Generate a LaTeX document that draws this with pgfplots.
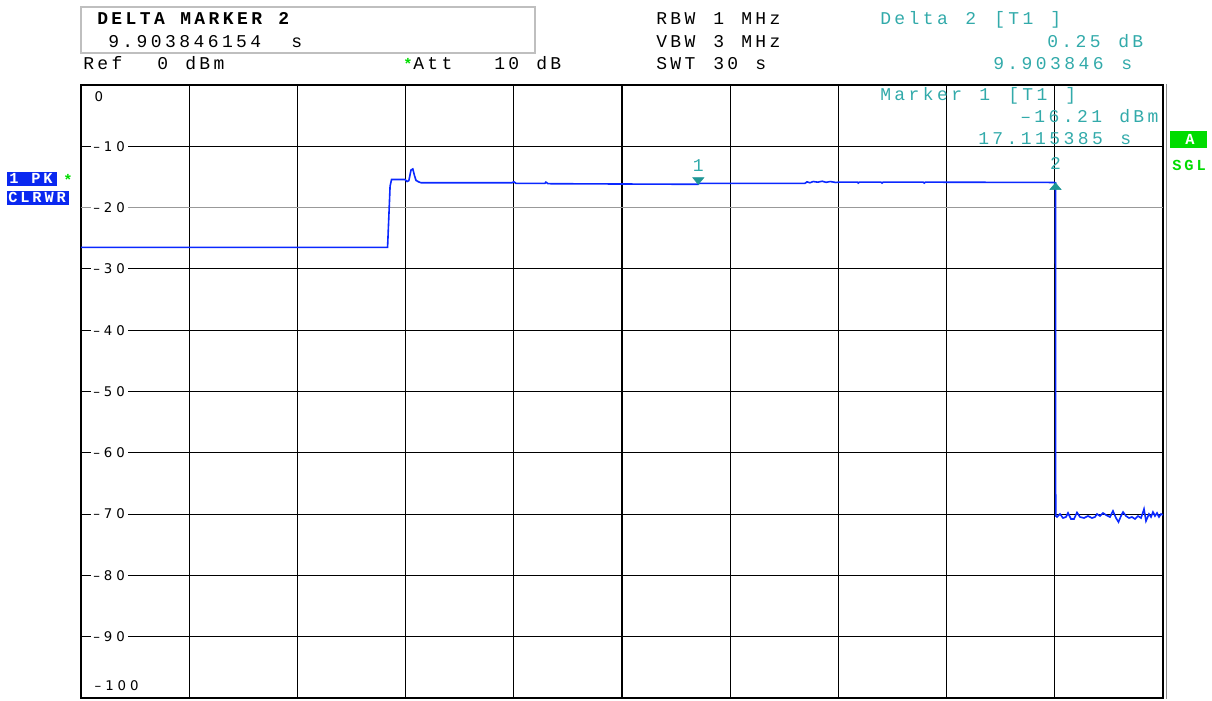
\documentclass[border=0pt]{standalone}
\usepackage{pgfplots}
\pgfplotsset{compat=1.18}
\usepackage{fontspec}
\setmainfont{Liberation Mono}
\newfontfamily\mono[LetterSpace=19]{Liberation Mono}
\newfontfamily\tickfont[LetterSpace=30]{DejaVu Sans}
\definecolor{trace}{RGB}{10,40,255}
\definecolor{mkteal}{RGB}{30,150,150}
\definecolor{txteal}{RGB}{50,170,170}
\definecolor{sgreen}{RGB}{0,220,0}
\definecolor{boxblue}{RGB}{10,40,240}
\newcommand\hd{\mono\fontsize{13.5pt}{15pt}\selectfont}
\newcommand\sm{\mono\bfseries\fontsize{11.5pt}{13pt}\selectfont}
\newcommand\tk{\tickfont\fontsize{10pt}{12pt}\selectfont}

\begin{document}
\begin{tikzpicture}
\useasboundingbox (0,0) rectangle (909pt,525pt);
\begin{axis}[
    at={(60.75pt,1.5pt)}, anchor=south west,
    scale only axis, width=811.5pt, height=459.75pt,
    xmin=0, xmax=30, ymin=-100, ymax=0,
    xtick={3,6,9,12,18,21,24,27},
    ytick={-90,-80,-70,-60,-50,-40,-30,-10},
    extra x ticks={15}, extra x tick labels={},
    extra x tick style={major grid style={black,line width=1.8pt}},
    extra y ticks={-20}, extra y tick labels={},
    extra y tick style={major grid style={black!40,line width=0.8pt}},
    xticklabels={}, yticklabels={},
    major tick length=0pt,
    grid=major,
    major grid style={black,line width=0.9pt},
    axis line style={line width=2.2pt},
]
% trace 1 PK CLRWR
\addplot[trace, line width=1.2pt] coordinates {
(0,-26.5) (8.50,-26.5) (8.57,-16.5) (8.61,-15.42) (8.98,-15.42)
(9.04,-15.74) (9.09,-15.6) (9.15,-13.87) (9.20,-13.70) (9.25,-14.85)
(9.29,-15.58) (9.37,-15.82) (9.43,-15.95) (11.95,-15.95) (12.00,-15.78)
(12.06,-16.05) (12.86,-16.05) (12.89,-15.85) (12.95,-16.1) (14.9,-16.15)
(17.11,-16.2) (17.14,-16.05) (20.07,-16.05) (20.13,-15.8) (20.21,-15.95)
(20.30,-15.75) (20.43,-15.85) (20.55,-15.7) (20.66,-15.88) (20.77,-15.75)
(20.93,-15.9) (21.02,-15.85) (21.53,-15.85) (21.55,-16.0) (21.58,-15.85)
(22.18,-15.85) (22.21,-16.0) (22.24,-15.85) (23.35,-15.85) (23.38,-16.0)
(23.41,-15.85) (26.99,-15.9) (27.019,-15.96) (27.025,-70.3)
(27.061,-70.47) (27.144,-69.98) (27.227,-70.64) (27.310,-70.47) (27.366,-69.82)
(27.449,-70.80) (27.532,-70.80) (27.615,-69.74) (27.698,-70.47) (27.809,-70.64)
(27.920,-70.31) (28.031,-70.64) (28.114,-70.47) (28.170,-69.98) (28.253,-70.31)
(28.336,-69.82) (28.419,-70.15) (28.530,-70.47) (28.613,-69.49) (28.697,-70.64)
(28.766,-71.29) (28.835,-70.31) (28.891,-69.66) (28.974,-70.31) (29.057,-70.64)
(29.140,-70.47) (29.223,-70.80) (29.306,-70.31) (29.390,-70.64) (29.473,-69.17)
(29.528,-71.13) (29.611,-69.98) (29.667,-70.47) (29.722,-69.66) (29.778,-70.31)
(29.833,-69.82) (29.889,-70.47) (29.944,-69.98) (30,-70.15)
};
% marker 1
\addplot[only marks, mark=triangle*, mark size=4.9pt, color=mkteal,
    mark options={yshift=3.4pt, yscale=-0.7}]
    coordinates {(17.115385,-16.21)}
    node[txteal, yshift=14pt, font=\hd] {1};
% marker 2 (delta)
\addplot[only marks, mark=triangle*, mark size=4.9pt, color=mkteal,
    mark options={yshift=-3.4pt, yscale=0.7}]
    coordinates {(27.019231,-15.96)}
    node[txteal, yshift=14.8pt, font=\hd] {2};
% level labels inside the grid
\pgfplotsinvokeforeach{10,20,30,40,50,60,70,80,90}{
  \node[anchor=west, fill=white, inner xsep=2pt, inner ysep=1pt,
        xshift=7pt, font=\tk] at (axis cs:0,-#1) {\textendash#1};
}
\node[anchor=west, inner xsep=2pt, xshift=8pt, yshift=-9pt, font=\tk] at (axis cs:0,0) {0};
\node[anchor=west, inner xsep=2pt, xshift=8pt, yshift=9pt, font=\tk] at (axis cs:0,-100) {\textendash100};
\end{axis}

\begin{scope}[x=0.75pt, y=-0.75pt, shift={(0pt,525pt)}]
% right double frame line
\draw[black!45, line width=0.9pt] (1166.5,84) -- (1166.5,699);
% marker info box
\draw[black!25, line width=0.8pt] (81,7) rectangle (535,53);
\node[anchor=base west, inner sep=0pt, font=\hd\bfseries] at (97,25) {DELTA};
\node[anchor=base west, inner sep=0pt, font=\hd\bfseries] at (180,25) {MARKER};
\node[anchor=base west, inner sep=0pt, font=\hd\bfseries] at (278,25) {2};
\node[anchor=base west, inner sep=0pt, font=\hd] at (108,48) {9.903846154};
\node[anchor=base west, inner sep=0pt, font=\hd] at (291,48) {s};
% ref / att
\node[anchor=base west, inner sep=0pt, font=\hd] at (83,70) {Ref};
\node[anchor=base west, inner sep=0pt, font=\hd] at (157,70) {0};
\node[anchor=base west, inner sep=0pt, font=\hd] at (185,70) {dBm};
\node[anchor=base west, inner sep=0pt, font=\sm, text=sgreen] at (403,70) {*};
\node[anchor=base west, inner sep=0pt, font=\hd] at (413,70) {Att};
\node[anchor=base west, inner sep=0pt, font=\hd] at (494,70) {10};
\node[anchor=base west, inner sep=0pt, font=\hd] at (536,70) {dB};
% bandwidths
\node[anchor=base west, inner sep=0pt, font=\hd] at (656,25) {RBW};
\node[anchor=base west, inner sep=0pt, font=\hd] at (713,25) {1};
\node[anchor=base west, inner sep=0pt, font=\hd] at (741,25) {MHz};
\node[anchor=base west, inner sep=0pt, font=\hd] at (656,48) {VBW};
\node[anchor=base west, inner sep=0pt, font=\hd] at (713,48) {3};
\node[anchor=base west, inner sep=0pt, font=\hd] at (741,48) {MHz};
\node[anchor=base west, inner sep=0pt, font=\hd] at (656,70) {SWT};
\node[anchor=base west, inner sep=0pt, font=\hd] at (713,70) {30};
\node[anchor=base west, inner sep=0pt, font=\hd] at (755,70) {s};
% delta readout
\node[anchor=base west, inner sep=0pt, font=\hd, text=txteal] at (880,25) {Delta};
\node[anchor=base west, inner sep=0pt, font=\hd, text=txteal] at (965,25) {2};
\node[anchor=base west, inner sep=0pt, font=\hd, text=txteal] at (994,25) {[T1};
\node[anchor=base west, inner sep=0pt, font=\hd, text=txteal] at (1050,25) {]};
\node[anchor=base west, inner sep=0pt, font=\hd, text=txteal] at (1047,48) {0.25};
\node[anchor=base west, inner sep=0pt, font=\hd, text=txteal] at (1118,48) {dB};
\node[anchor=base west, inner sep=0pt, font=\hd, text=txteal] at (993,70) {9.903846};
\node[anchor=base west, inner sep=0pt, font=\hd, text=txteal] at (1121,70) {s};
% marker 1 readout
\node[anchor=base west, inner sep=0pt, font=\hd, text=txteal] at (880,101) {Marker};
\node[anchor=base west, inner sep=0pt, font=\hd, text=txteal] at (979,101) {1};
\node[anchor=base west, inner sep=0pt, font=\hd, text=txteal] at (1008,101) {[T1};
\node[anchor=base west, inner sep=0pt, font=\hd, text=txteal] at (1065,101) {]};
\node[anchor=base west, inner sep=0pt, font=\hd, text=txteal] at (1020,123) {\textendash16.21};
\node[anchor=base west, inner sep=0pt, font=\hd, text=txteal] at (1119,123) {dBm};
\node[anchor=base west, inner sep=0pt, font=\hd, text=txteal] at (978,145) {17.115385};
\node[anchor=base west, inner sep=0pt, font=\hd, text=txteal] at (1120,145) {s};
% trace labels on the left
\fill[boxblue] (7,172) rectangle (57,186);
\node[anchor=base west, inner sep=0pt, font=\sm, text=white] at (9,184) {1};
\node[anchor=base west, inner sep=0pt, font=\sm, text=white] at (31,184) {PK};
\node[anchor=base west, inner sep=0pt, font=\sm, text=sgreen] at (63,186) {*};
\fill[boxblue] (7,191) rectangle (69,205);
\node[anchor=base west, inner sep=0pt, font=\sm, text=white] at (8,203) {CLRWR};
% status on the right
\fill[sgreen] (1170,131) rectangle (1207,148);
\node[anchor=base, inner sep=0pt, font=\sm, text=white] at (1190,144.5) {A};
\node[anchor=base west, inner sep=0pt, font=\sm, text=sgreen] at (1172,171) {SGL};
\end{scope}
\end{tikzpicture}
\end{document}
